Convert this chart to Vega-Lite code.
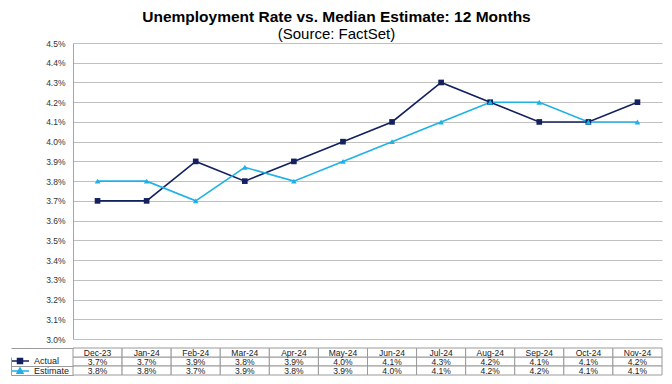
{
  "$schema": "https://vega.github.io/schema/vega-lite/v6.json",
  "padding": {"left": 10, "right": 10, "top": 9, "bottom": 10},
  "background": "white",
  "title": {
    "text": "Unemployment  Rate vs. Median Estimate: 12 Months",
    "subtitle": "(Source: FactSet)",
    "anchor": "middle",
    "font": "Liberation Sans",
    "fontSize": 15.5,
    "fontWeight": "bold",
    "color": "#000000",
    "subtitleFont": "Liberation Sans",
    "subtitleFontSize": 15,
    "subtitleColor": "#000000",
    "subtitlePadding": 2,
    "offset": -3
  },
  "datasets": {
    "rates": [
      {"month": "Dec-23", "series": "Actual", "rate": 0.037},
      {"month": "Jan-24", "series": "Actual", "rate": 0.037},
      {"month": "Feb-24", "series": "Actual", "rate": 0.039},
      {"month": "Mar-24", "series": "Actual", "rate": 0.038},
      {"month": "Apr-24", "series": "Actual", "rate": 0.039},
      {"month": "May-24", "series": "Actual", "rate": 0.040},
      {"month": "Jun-24", "series": "Actual", "rate": 0.041},
      {"month": "Jul-24", "series": "Actual", "rate": 0.043},
      {"month": "Aug-24", "series": "Actual", "rate": 0.042},
      {"month": "Sep-24", "series": "Actual", "rate": 0.041},
      {"month": "Oct-24", "series": "Actual", "rate": 0.041},
      {"month": "Nov-24", "series": "Actual", "rate": 0.042},
      {"month": "Dec-23", "series": "Estimate", "rate": 0.038},
      {"month": "Jan-24", "series": "Estimate", "rate": 0.038},
      {"month": "Feb-24", "series": "Estimate", "rate": 0.037},
      {"month": "Mar-24", "series": "Estimate", "rate": 0.0387},
      {"month": "Apr-24", "series": "Estimate", "rate": 0.038},
      {"month": "May-24", "series": "Estimate", "rate": 0.039},
      {"month": "Jun-24", "series": "Estimate", "rate": 0.040},
      {"month": "Jul-24", "series": "Estimate", "rate": 0.041},
      {"month": "Aug-24", "series": "Estimate", "rate": 0.042},
      {"month": "Sep-24", "series": "Estimate", "rate": 0.042},
      {"month": "Oct-24", "series": "Estimate", "rate": 0.041},
      {"month": "Nov-24", "series": "Estimate", "rate": 0.041}
    ]
  },
  "data": {"name": "rates"},
  "spacing": 3,
  "resolve": {
    "scale": {"shape": "independent", "color": "independent", "fill": "independent", "stroke": "independent"},
    "legend": {"shape": "independent", "color": "independent", "fill": "independent", "stroke": "independent"}
  },
  "vconcat": [
    {
      "width": 589,
      "height": 296,
      "encoding": {
        "x": {
          "field": "month", "type": "nominal", "sort": null,
          "scale": {"type": "point", "padding": 0.5,
            "domain": ["Dec-23","Jan-24","Feb-24","Mar-24","Apr-24","May-24","Jun-24","Jul-24","Aug-24","Sep-24","Oct-24","Nov-24"]},
          "axis": null
        },
        "y": {
          "field": "rate", "type": "quantitative",
          "scale": {"domain": [0.03, 0.045], "nice": false, "zero": false},
          "axis": {
            "format": ".1%",
            "values": [0.03,0.031,0.032,0.033,0.034,0.035,0.036,0.037,0.038,0.039,0.040,0.041,0.042,0.043,0.044,0.045],
            "grid": true, "gridColor": "#C0C0C0", "gridWidth": 1.2,
            "domainColor": "#A6A6A6", "ticks": false, "labelPadding": 8,
            "labelFontSize": 8.5, "labelColor": "#333333", "labelFont": "Liberation Sans",
            "title": null, "minExtent": 62, "maxExtent": 62
          }
        },
        "color": {
          "field": "series", "type": "nominal",
          "scale": {"domain": ["Actual","Estimate"], "range": ["#13215F","#1FB1E6"]},
          "legend": null
        }
      },
      "layer": [
        {"mark": {"type": "line", "strokeWidth": 1.6}},
        {
          "mark": {"type": "point", "filled": true, "opacity": 1, "size": 32},
          "encoding": {
            "shape": {"field": "series", "type": "nominal",
              "scale": {"domain": ["Actual","Estimate"], "range": ["square","triangle-up"]},
              "legend": null}
          }
        }
      ]
    },
    {
      "width": 589,
      "height": 27,
      "encoding": {
        "x": {"field": "month", "type": "nominal", "sort": null,
          "scale": {"paddingInner": 0, "paddingOuter": 0,
            "domain": ["Dec-23","Jan-24","Feb-24","Mar-24","Apr-24","May-24","Jun-24","Jul-24","Aug-24","Sep-24","Oct-24","Nov-24"]},
          "axis": null}
      },
      "layer": [
        {
          "mark": {"type": "rect", "fill": "white", "stroke": "#9A9A9A", "strokeWidth": 1},
          "encoding": {
            "y": {"field": "series", "type": "nominal",
              "scale": {"domain": ["Month","Actual","Estimate"], "paddingInner": 0, "paddingOuter": 0},
              "axis": {
                "title": null, "labels": false, "grid": false,
                "offset": 62, "domain": true, "domainColor": "#9A9A9A", "domainWidth": 1,
                "domainDash": [0, 9, 18, 0],
                "ticks": true, "tickBand": "extent", "tickSize": -62, "tickWidth": 1,
                "tickColor": {"condition": {"test": "datum.value === 'Month'", "value": "transparent"}, "value": "#9A9A9A"}
              }
            }
          }
        },
        {
          "transform": [{"filter": "datum.series === 'Actual'"}],
          "mark": {"type": "rect", "fill": "white", "stroke": "#9A9A9A", "strokeWidth": 1},
          "encoding": {"y": {"datum": "Month", "type": "nominal"}}
        },
        {
          "transform": [{"filter": "datum.series === 'Actual'"}],
          "mark": {"type": "text", "fontSize": 8.5, "font": "Liberation Sans", "color": "#222222"},
          "encoding": {"y": {"datum": "Month", "type": "nominal"}, "text": {"field": "month"}}
        },
        {
          "mark": {"type": "text", "fontSize": 8.5, "font": "Liberation Sans", "color": "#222222"},
          "encoding": {
            "y": {"field": "series", "type": "nominal"},
            "text": {"field": "rate", "type": "quantitative", "format": ".1%"}
          }
        },
        {
          "transform": [{"filter": "datum.month === 'Dec-23'"}],
          "mark": {"type": "point", "filled": true, "opacity": 0},
          "encoding": {
            "y": {"field": "series", "type": "nominal"},
            "shape": {"field": "series", "type": "nominal",
              "scale": {"domain": ["Actual","Estimate"],
                "range": ["M-3.6,0H3.6M-1,-1H1V1H-1Z", "M-3.6,0H3.6M0,-1.2L1.2,0.9H-1.2Z"]},
              "legend": {"orient": "none", "legendX": -57.5, "legendY": 8.5, "title": null,
                "symbolSize": 25, "symbolStrokeWidth": 1.5, "symbolOpacity": 1,
                "labelFontSize": 9, "labelFont": "Liberation Sans", "labelColor": "#222222",
                "labelOffset": 9.5, "rowPadding": -3.5, "padding": 0, "offset": 0}},
            "fill": {"field": "series", "type": "nominal",
              "scale": {"domain": ["Actual","Estimate"], "range": ["#13215F","#1FB1E6"]},
              "legend": {"orient": "none", "legendX": -57.5, "legendY": 8.5, "title": null,
                "symbolSize": 25, "symbolStrokeWidth": 1.5, "symbolOpacity": 1,
                "labelFontSize": 9, "labelFont": "Liberation Sans", "labelColor": "#222222",
                "labelOffset": 9.5, "rowPadding": -3.5, "padding": 0, "offset": 0}},
            "stroke": {"field": "series", "type": "nominal",
              "scale": {"domain": ["Actual","Estimate"], "range": ["#13215F","#1FB1E6"]},
              "legend": {"orient": "none", "legendX": -57.5, "legendY": 8.5, "title": null,
                "symbolSize": 25, "symbolStrokeWidth": 1.5, "symbolOpacity": 1,
                "labelFontSize": 9, "labelFont": "Liberation Sans", "labelColor": "#222222",
                "labelOffset": 9.5, "rowPadding": -3.5, "padding": 0, "offset": 0}}
          }
        }
      ]
    }
  ],
  "config": {"view": {"stroke": null}, "font": "Liberation Sans"}
}
